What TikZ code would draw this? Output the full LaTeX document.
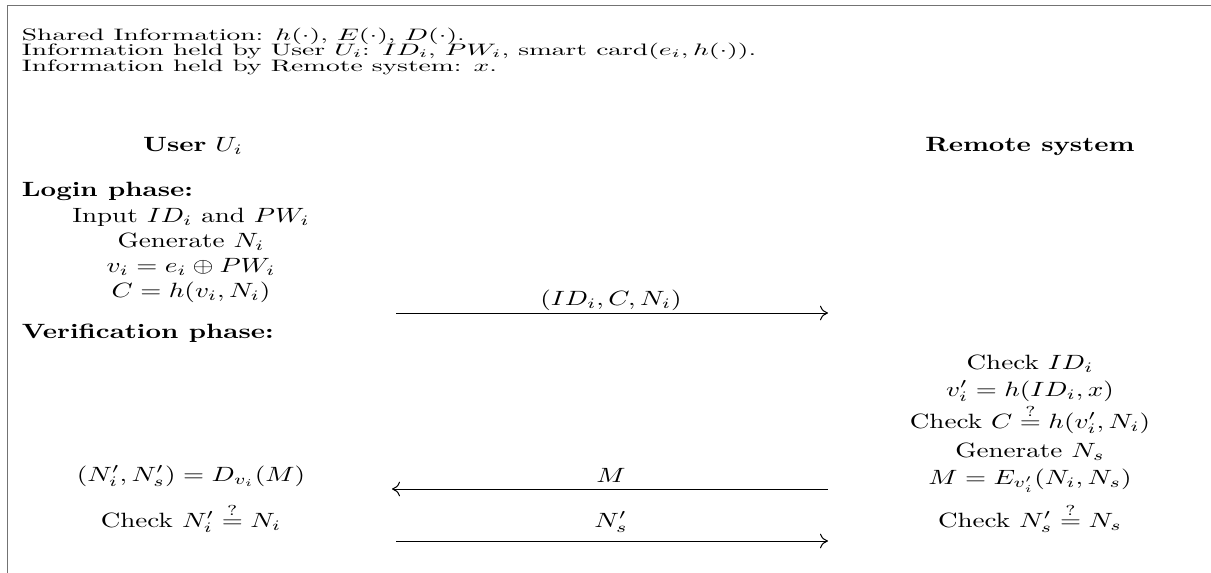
\documentclass[tikz,border=0pt]{standalone}
\usepackage{amsmath}
\usepackage{graphicx}
\usetikzlibrary{arrows.meta}
\newcommand{\stx}[1]{\scalebox{2.03}[1.55]{#1}}
\newcommand{\sth}[1]{\scalebox{2.06}[1.24]{#1}}
\tikzset{
  lbl/.style={inner sep=0pt, anchor=base west},
  ctr/.style={inner sep=0pt, anchor=base},
  msg/.style={line width=0.75pt, -{To[length=6pt,width=11pt]}},
  frame/.style={line width=1.1pt, black!55}
}
\begin{document}
\begin{tikzpicture}[x=0.75pt,y=-0.75pt]
\useasboundingbox (0,0) rectangle (1211,572);
\draw[frame] (7.3,575) -- (7.3,5.7) -- (1214,5.7);
% header
\node[lbl] (t1) at (21.7,40) {\sth{Shared Information: $h(\cdot)$, $E(\cdot)$, $D(\cdot)$.}};
\node[lbl] (t2) at (21.7,55.5) {\sth{Information held by User $U_i$: $ID_i$, $PW_i$, smart card($e_i, h(\cdot)$).}};
\node[lbl] (t3) at (21.7,71) {\sth{Information held by Remote system: $x$.}};
\node[ctr] (user) at (193,151) {\stx{\textbf{User} $U_i$}};
\node[ctr] (rem) at (1030,151) {\stx{\textbf{Remote system}}};
% login
\node[lbl] (login) at (21.7,196) {\stx{\textbf{Login phase:}}};
\node[ctr] (u1) at (191,222) {\stx{Input $ID_i$ and $PW_i$}};
\node[ctr] (u2) at (191,247) {\stx{Generate $N_i$}};
\node[ctr] (u3) at (191,272) {\stx{$v_i = e_i \oplus PW_i$}};
\node[ctr] (u4) at (191,297) {\stx{$C = h(v_i, N_i)$}};
\coordinate (a1s) at (396,313);
\coordinate (a1e) at (828,313);
\draw[msg] (a1s) -- (a1e);
\node[ctr] (m1) at (611,305) {\stx{$(ID_i, C, N_i)$}};
% verification
\node[lbl] (ver) at (21.7,338) {\stx{\textbf{Verification phase:}}};
\node[ctr] (r1) at (1030,369) {\stx{Check $ID_i$}};
\node[ctr] (r2) at (1030,396) {\stx{$v_i' = h(ID_i, x)$}};
\node[ctr] (r3) at (1030,428) {\stx{Check $C \stackrel{?}{=} h(v_i', N_i)$}};
\node[ctr] (r4) at (1030,457) {\stx{Generate $N_s$}};
\node[ctr] (r5) at (1030,484) {\stx{$M = E_{v_i'}(N_i, N_s)$}};
\node[ctr] (r6) at (1030,527) {\stx{Check $N_s' \stackrel{?}{=} N_s$}};
\node[ctr] (u5) at (191,481) {\stx{$(N_i', N_s') = D_{v_i}(M)$}};
\node[ctr] (u6) at (191,527) {\stx{Check $N_i' \stackrel{?}{=} N_i$}};
\coordinate (a2s) at (828,489);
\coordinate (a2e) at (392,489);
\draw[msg] (a2s) -- (a2e);
\node[ctr] (m2) at (611,482) {\stx{$M$}};
\coordinate (a3s) at (396,541);
\coordinate (a3e) at (828,541);
\draw[msg] (a3s) -- (a3e);
\node[ctr] (m3) at (611,527) {\stx{$N_s'$}};
\end{tikzpicture}
\end{document}
